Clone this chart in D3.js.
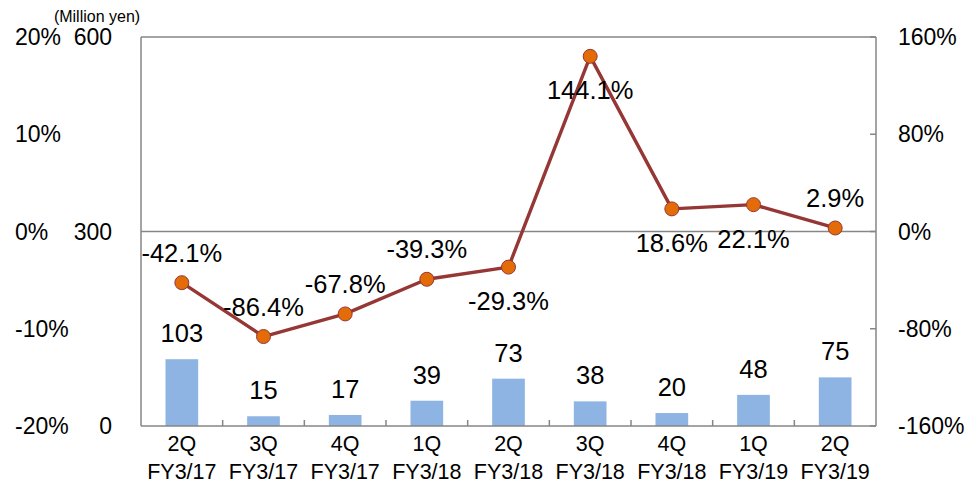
<!DOCTYPE html>
<html>
<head>
<meta charset="utf-8">
<script src="https://cdn.jsdelivr.net/npm/d3@7"></script>
<style>
  html, body { margin: 0; padding: 0; background: #fff; }
  svg { display: block; font-family: "Liberation Sans", Arial, sans-serif; }
</style>
</head>
<body>
<svg id="chart" width="977" height="485"></svg>
<script>
// Quarterly sales (million yen) and year-on-year change (%)
const quarters = ["2Q", "3Q", "4Q", "1Q", "2Q", "3Q", "4Q", "1Q", "2Q"];
const fiscalYears = ["FY3/17", "FY3/17", "FY3/17", "FY3/18", "FY3/18", "FY3/18", "FY3/18", "FY3/19", "FY3/19"];
const sales = [103, 15, 17, 39, 73, 38, 20, 48, 75];
const yoyChange = [-42.1, -86.4, -67.8, -39.3, -29.3, 144.1, 18.6, 22.1, 2.9];
// label placement for the change line: above or below the marker
const yoyLabelSide = ["above", "above", "above", "above", "below", "below", "below", "below", "above"];

const salesTicks = [0, 300, 600];
const outerPctTicks = [-20, -10, 0, 10, 20];
const rightPctTicks = [-160, -80, 0, 80, 160];

const svg = d3.select("#chart");
const plot = { left: 141, right: 876, top: 37, bottom: 426 };
const axisColor = "#868686";

const x = d3.scaleBand()
  .domain(d3.range(quarters.length))
  .range([plot.left, plot.right])
  .padding(0);
const ySales = d3.scaleLinear().domain([0, 600]).range([plot.bottom, plot.top]);
const yOuter = d3.scaleLinear().domain([-20, 20]).range([plot.bottom, plot.top]);
const yPct = d3.scaleLinear().domain([-160, 160]).range([plot.bottom, plot.top]);

// horizontal gridlines at the sales ticks above zero
svg.append("g")
  .selectAll("line")
  .data(salesTicks.filter(d => d > 0))
  .join("line")
  .attr("x1", plot.left).attr("x2", plot.right)
  .attr("y1", d => ySales(d)).attr("y2", d => ySales(d))
  .attr("stroke", axisColor).attr("stroke-width", 1.5);

// bars
const barW = x.bandwidth() * 0.4;
svg.append("g")
  .selectAll("rect")
  .data(sales)
  .join("rect")
  .attr("x", (d, i) => x(i) + (x.bandwidth() - barW) / 2)
  .attr("y", d => ySales(d))
  .attr("width", barW)
  .attr("height", d => ySales(0) - ySales(d))
  .attr("fill", "#8DB4E2");

// bar value labels
svg.append("g")
  .selectAll("text")
  .data(sales)
  .join("text")
  .attr("x", (d, i) => x(i) + x.bandwidth() / 2)
  .attr("y", d => ySales(d) - 17)
  .attr("text-anchor", "middle")
  .attr("font-size", 25.5)
  .attr("fill", "#000")
  .text(d => d);

// axis frame: left, right, bottom
const frame = svg.append("g").attr("stroke", axisColor).attr("stroke-width", 1.5);
frame.append("line").attr("x1", plot.left).attr("x2", plot.left).attr("y1", plot.top).attr("y2", plot.bottom);
frame.append("line").attr("x1", plot.right).attr("x2", plot.right).attr("y1", plot.top).attr("y2", plot.bottom);
frame.append("line").attr("x1", plot.left).attr("x2", plot.right).attr("y1", plot.bottom).attr("y2", plot.bottom);

// category tick marks between bands (pointing inward)
frame.selectAll(".xtick")
  .data(d3.range(1, quarters.length))
  .join("line")
  .attr("class", "xtick")
  .attr("x1", i => x(i)).attr("x2", i => x(i))
  .attr("y1", plot.bottom).attr("y2", plot.bottom - 6);

// right axis tick marks (pointing inward)
frame.selectAll(".rtick")
  .data(rightPctTicks)
  .join("line")
  .attr("class", "rtick")
  .attr("x1", plot.right).attr("x2", plot.right - 6)
  .attr("y1", d => yPct(d)).attr("y2", d => yPct(d));

// category labels
const xl = svg.append("g").attr("font-size", 21.5).attr("text-anchor", "middle").attr("fill", "#000");
xl.selectAll(".q").data(quarters).join("text")
  .attr("class", "q")
  .attr("x", (d, i) => x(i) + x.bandwidth() / 2)
  .attr("y", 451)
  .text(d => d);
xl.selectAll(".fy").data(fiscalYears).join("text")
  .attr("class", "fy")
  .attr("x", (d, i) => x(i) + x.bandwidth() / 2)
  .attr("y", 479)
  .text(d => d);

// outer left axis (percent)
svg.append("g").attr("font-size", 23).attr("fill", "#000")
  .selectAll("text").data(outerPctTicks).join("text")
  .attr("x", 15)
  .attr("y", d => yOuter(d))
  .attr("dy", "0.35em")
  .attr("text-anchor", "start")
  .text(d => d + "%");

// inner left axis (million yen)
svg.append("g").attr("font-size", 23).attr("fill", "#000")
  .selectAll("text").data(salesTicks).join("text")
  .attr("x", 112)
  .attr("y", d => ySales(d))
  .attr("dy", "0.35em")
  .attr("text-anchor", "end")
  .text(d => d);

// right axis (percent)
svg.append("g").attr("font-size", 23).attr("fill", "#000")
  .selectAll("text").data(rightPctTicks).join("text")
  .attr("x", 898)
  .attr("y", d => yPct(d))
  .attr("dy", "0.35em")
  .attr("text-anchor", "start")
  .text(d => d + "%");

// unit caption
svg.append("text")
  .attr("x", 97).attr("y", 22)
  .attr("text-anchor", "middle")
  .attr("font-size", 16)
  .attr("fill", "#000")
  .text("(Million yen)");

// year-on-year change line
const line = d3.line()
  .x((d, i) => x(i) + x.bandwidth() / 2)
  .y(d => yPct(d));
svg.append("path")
  .datum(yoyChange)
  .attr("d", line)
  .attr("fill", "none")
  .attr("stroke", "#953735")
  .attr("stroke-width", 3.4)
  .attr("stroke-linejoin", "round");

svg.append("g")
  .selectAll("circle")
  .data(yoyChange)
  .join("circle")
  .attr("cx", (d, i) => x(i) + x.bandwidth() / 2)
  .attr("cy", d => yPct(d))
  .attr("r", 7)
  .attr("fill", "#E36C09")
  .attr("stroke", "#953735")
  .attr("stroke-width", 1);

// change labels
svg.append("g")
  .selectAll("text")
  .data(yoyChange)
  .join("text")
  .attr("x", (d, i) => x(i) + x.bandwidth() / 2)
  .attr("y", (d, i) => yoyLabelSide[i] === "above" ? yPct(d) - 21 : yPct(d) + 43)
  .attr("text-anchor", "middle")
  .attr("font-size", 25.5)
  .attr("fill", "#000")
  .text(d => d.toFixed(1) + "%");
</script>
</body>
</html>
